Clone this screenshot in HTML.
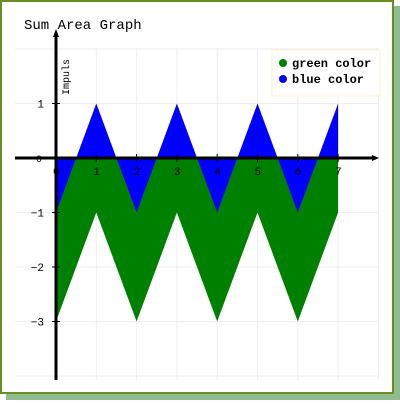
<!DOCTYPE html>
<html><head><style>
body{margin:0;width:400px;height:400px;background:#fff;overflow:hidden}
text{font-family:"Liberation Mono",monospace}
</style></head><body>
<svg width="400" height="400">
<rect x="392" y="6" width="8" height="394" fill="#8fbc8f"/>
<rect x="6" y="392" width="394" height="8" fill="#8fbc8f"/>
<rect x="1" y="1" width="392" height="392" fill="#fff" stroke="#6b8e23" stroke-width="2"/>
<text x="24" y="29" font-size="14">Sum Area Graph</text>
<g id="grid"></g>
<g id="areas"></g>
<g id="axes"></g>
<g>
<rect x="272" y="50" width="108" height="46" fill="#fff" stroke="#fdf2d0"/>
<circle cx="283" cy="63" r="4" fill="#008000"/>
<text x="292" y="67" font-size="12" font-weight="bold">green color</text>
<circle cx="283" cy="79" r="4" fill="#0000ff"/>
<text x="292" y="83" font-size="12" font-weight="bold">blue color</text>
</g>
</svg>
<script>
const categories=[0,1,2,3,4,5,6,7];
const greenValues=[-3,-1,-3,-1,-3,-1,-3,-1];
const blueValues=[-1,1,-1,1,-1,1,-1,1];
const yTicks=[-3,-2,-1,1];
const NS="http://www.w3.org/2000/svg";
const xs=v=>56+v*40.3;
const ys=v=>158-v*54.5;
function mk(tag,attrs,parent){const e=document.createElementNS(NS,tag);for(const k in attrs)e.setAttribute(k,attrs[k]);parent.appendChild(e);return e;}
const grid=document.getElementById('grid'),areas=document.getElementById('areas'),axes=document.getElementById('axes');
for(let i=1;i<=8;i++){const l=mk('line',{x1:xs(i),x2:xs(i),y1:48,y2:380,stroke:'#eee'},grid);

}
[-4,-3,-2,-1,1,2].forEach(v=>{const l=mk('line',{x1:15,x2:378,y1:ys(v),y2:ys(v),stroke:'#eee'},grid);

});
function area(vals,color,name){let d='M'+xs(categories[0])+','+ys(0);categories.forEach((c,i)=>{d+=' L'+xs(c)+','+ys(vals[i]);});d+=' L'+xs(categories[categories.length-1])+','+ys(0)+'Z';
const p=mk('path',{d:d,fill:color},areas);

}
area(greenValues,'#008000','green-area');
area(blueValues,'#0000ff','blue-area');
const xa=mk('line',{x1:15,x2:376,y1:158,y2:158,stroke:'#000','stroke-width':3},axes);


const xarr=mk('path',{d:'M372,155 L379,158 L372,161Z',fill:'#000'},axes);


const ya=mk('line',{x1:56,x2:56,y1:33,y2:380,stroke:'#000','stroke-width':3},axes);


const yarr=mk('path',{d:'M53,37 L56,29 L59,37Z',fill:'#000'},axes);


categories.forEach(c=>{if(c>0){const t=mk('line',{x1:xs(c),x2:xs(c),y1:154,y2:162,stroke:'#000'},axes);

}
const tx=mk('text',{x:xs(c)-3,y:175,'font-size':11},axes);tx.textContent=c;

});
yTicks.forEach(v=>{const t=mk('line',{x1:52,x2:60,y1:ys(v),y2:ys(v),stroke:'#000'},axes);


const tx=mk('text',{x:44,y:ys(v)+4,'font-size':11,'text-anchor':'end'},axes);tx.textContent=v<0?'\u2212'+(-v):v;

});
const z=mk('text',{x:36,y:162,'font-size':10},axes);z.textContent='0';


const yt=mk('text',{x:0,y:0,'font-size':10,transform:'translate(69,95) rotate(-90)'},axes);yt.textContent='Impuls';


</script>
</body></html>
